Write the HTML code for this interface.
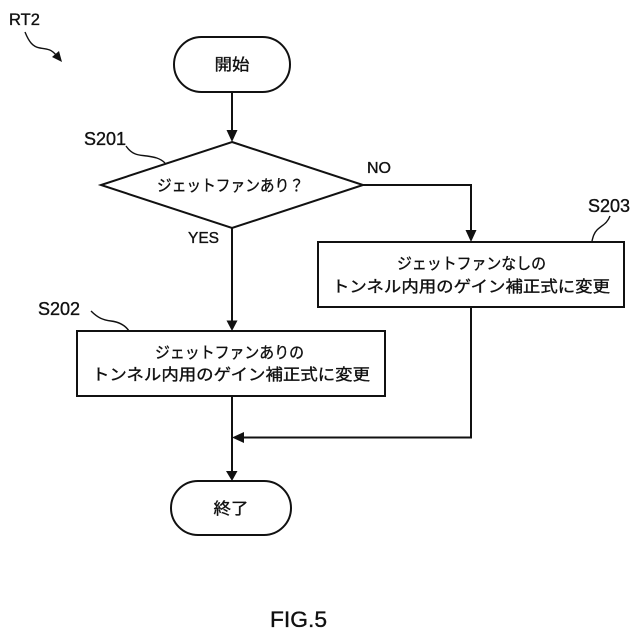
<!DOCTYPE html>
<html>
<head>
<meta charset="utf-8">
<style>
html,body{margin:0;padding:0;background:#fff;width:640px;height:640px;overflow:hidden}
svg{display:block}
text{font-family:"Liberation Sans","Noto Sans CJK JP",sans-serif;fill:#111;stroke:#111;stroke-width:.35px}
</style>
</head>
<body>
<svg width="640" height="640" viewBox="0 0 640 640" xmlns="http://www.w3.org/2000/svg">
<rect width="640" height="640" fill="#fff"/>
<g fill="none" stroke="#111" stroke-width="2">
<rect x="174" y="37" width="116" height="55" rx="27.5"/>
<path d="M232 92V130"/>
<path d="M232 142L363 185L232 228L101 185Z"/>
<path d="M232 228V321"/>
<path d="M363 185H471V230"/>
<rect x="318" y="242" width="306" height="65"/>
<rect x="77" y="331" width="308" height="65"/>
<path d="M471 307V437.500H243"/>
<path d="M232 396V472"/>
<rect x="171" y="481" width="120" height="54" rx="27"/>
</g>
<g fill="#111" stroke="none">
<path d="M226.500 130H237.500L232 142Z"/>
<path d="M226.500 320.500H237.500L232 331Z"/>
<path d="M465.500 230H476.500L471 242Z"/>
<path d="M232 437.500L244 432V443Z"/>
<path d="M226 471H237.500L232 481Z"/>
<path d="M62 62L52 57L59 51Z"/>
</g>
<g fill="none" stroke="#111" stroke-width="1.400">
<path d="M25 32C29 42 33 47 40 48C47 49 51 49 56 55"/>
<path d="M126 146C133 156 140 155 147 156C154 157 160 158 165 163"/>
<path d="M91 311C98 318 103 320 111 321C119 322 125 325 129 331"/>
<path d="M610 216C607 224 602 225 597 230C594 233 593 237 592 241"/>
</g>
<g font-size="16">
<text x="9" y="25" font-size="16.500">RT2</text>
<text x="84" y="145" font-size="18">S201</text>
<text x="38" y="315" font-size="18">S202</text>
<text x="588" y="212" font-size="18">S203</text>
<text x="367" y="173" font-size="16">NO</text>
<text x="188" y="243" font-size="15.500">YES</text>
<text x="232" y="70" text-anchor="middle" textLength="35" lengthAdjust="spacingAndGlyphs">開始</text>
<text x="157" y="191" textLength="147" lengthAdjust="spacingAndGlyphs">ジェットファンあり？</text>
<text x="397" y="269" textLength="149" lengthAdjust="spacingAndGlyphs">ジェットファンなしの</text>
<text x="332" y="292" textLength="278" lengthAdjust="spacingAndGlyphs">トンネル内用のゲイン補正式に変更</text>
<text x="155" y="358" textLength="149" lengthAdjust="spacingAndGlyphs">ジェットファンありの</text>
<text x="92" y="380" textLength="278" lengthAdjust="spacingAndGlyphs">トンネル内用のゲイン補正式に変更</text>
<text x="231" y="514" text-anchor="middle" textLength="35" lengthAdjust="spacingAndGlyphs">終了</text>
<text x="270" y="627" font-size="22" textLength="57" lengthAdjust="spacingAndGlyphs">FIG.5</text>
</g>
</svg>
</body>
</html>
